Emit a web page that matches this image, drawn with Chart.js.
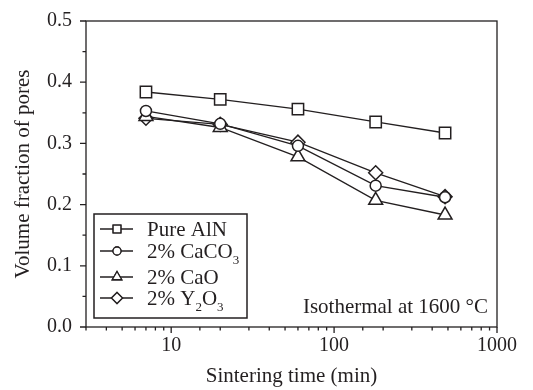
<!DOCTYPE html>
<html>
<head>
<meta charset="utf-8">
<script src="https://cdn.jsdelivr.net/npm/chart.js@4/dist/chart.umd.min.js"></script>
<style>
  html, body { margin: 0; padding: 0; background: #fff; }
  #wrap { width: 533px; height: 390px; }
</style>
</head>
<body>
<div id="wrap"><canvas id="chart"></canvas></div>
<script>
// sintering time (min) and pore fractions
const times = [7, 20, 60, 180, 480];
const pureAlN = [0.384, 0.372, 0.356, 0.335, 0.317];
const caco3 = [0.353, 0.332, 0.296, 0.231, 0.212];
const cao = [0.344, 0.326, 0.278, 0.207, 0.183];
const y2o3 = [0.341, 0.331, 0.302, 0.252, 0.213];

const seriesNames = ['Pure AlN', '2% CaCO3', '2% CaO', '2% Y2O3'];
const xTickLabels = [10, 100, 1000];
const yTickLabels = ['0.0', '0.1', '0.2', '0.3', '0.4', '0.5'];

const ink = '#231f20';
const serif = '"Liberation Serif", "DejaVu Serif", serif';

function pts(vals) {
  return times.map((t, i) => ({ x: t, y: vals[i] }));
}

function makeSet(label, vals, style, radius) {
  return {
    label: label,
    data: pts(vals),
    borderColor: ink,
    borderWidth: 1.3,
    pointStyle: style,
    pointRadius: radius,
    pointHoverRadius: radius,
    pointBackgroundColor: '#fff',
    pointBorderColor: ink,
    pointBorderWidth: 1.5,
    tension: 0,
  };
}

const datasets = [
  makeSet(seriesNames[0], pureAlN, 'rect', 8),
  makeSet(seriesNames[1], caco3, 'circle', 5.5),
  makeSet(seriesNames[2], cao, 'triangle', 8),
  makeSet(seriesNames[3], y2o3, 'rectRot', 7),
];

// text with a trailing-digit subscript, e.g. CaCO3, Y2O3
function drawChem(ctx, text, x, y, size) {
  const big = size + 'px ' + serif;
  const small = Math.round(size * 0.62) + 'px ' + serif;
  let cx = x;
  const parts = text.match(/(\d+%?|[^\d]+)/g);
  parts.forEach((p, i) => {
    const prev = i > 0 ? parts[i - 1] : ' ';
    const sub = /^\d$/.test(p) && /[A-Z]$/i.test(prev) && !/%/.test(p);
    ctx.font = sub ? small : big;
    ctx.fillText(p, cx, sub ? y + size * 0.3 : y);
    cx += ctx.measureText(p).width;
  });
}

const framePlugin = {
  id: 'frame',
  afterDraw(chart) {
    const ctx = chart.ctx;
    const { left, right, top, bottom } = chart.chartArea;
    const xs = chart.scales.x;
    const ys = chart.scales.y;
    ctx.save();
    ctx.strokeStyle = ink;
    ctx.lineWidth = 1.3;
    ctx.strokeRect(left, top, right - left, bottom - top);

    ctx.beginPath();
    xs.ticks.forEach(t => {
      const px = xs.getPixelForValue(t.value);
      const len = xTickLabels.includes(t.value) ? 6 : 3.5;
      ctx.moveTo(px, bottom);
      ctx.lineTo(px, bottom + len);
    });
    ys.ticks.forEach(t => {
      const py = ys.getPixelForValue(t.value);
      const major = Math.abs(t.value * 10 - Math.round(t.value * 10)) < 1e-6;
      const len = major ? 6 : 3.5;
      ctx.moveTo(left, py);
      ctx.lineTo(left - len, py);
    });
    ctx.stroke();

    // annotation
    ctx.fillStyle = ink;
    ctx.font = '21px ' + serif;
    ctx.textAlign = 'right';
    ctx.textBaseline = 'alphabetic';
    ctx.fillText('Isothermal at 1600 \u00B0C', right - 9, bottom - 14);

    // legend box
    const bx = left + 8, by = top + 193, bw = 153, bh = 104;
    ctx.lineWidth = 1.5;
    ctx.strokeRect(bx, by, bw, bh);
    const rows = [15, 37, 63, 84];
    datasets.forEach((ds, i) => {
      const cy = by + rows[i];
      ctx.beginPath();
      ctx.lineWidth = 1.3;
      ctx.moveTo(bx + 6, cy);
      ctx.lineTo(bx + 39, cy);
      ctx.stroke();
      const r = ds.pointStyle === 'circle' ? 4 : 5.5;
      Chart.helpers.drawPoint(ctx, {
        pointStyle: ds.pointStyle, radius: r, rotation: 0, borderWidth: 1.3
      }, bx + 23, cy);
      ctx.fillStyle = '#fff';
      ctx.fill();
      ctx.stroke();
      ctx.fillStyle = ink;
      ctx.textAlign = 'left';
      drawChem(ctx, ds.label, bx + 53, cy + 7, 21);
    });
    ctx.restore();
  }
};

new Chart(document.getElementById('chart'), {
  type: 'line',
  data: { datasets: datasets },
  options: {
    responsive: true,
    maintainAspectRatio: false,
    animation: false,
    events: [],
    layout: { padding: { top: 21, right: 36, left: 0, bottom: 0 } },
    plugins: { legend: { display: false }, tooltip: { enabled: false } },
    scales: {
      x: {
        type: 'logarithmic',
        min: 3,
        max: 1000,
        afterFit: s => { s.height = 63; s.paddingLeft = 0; s.paddingRight = 0; },
        grid: { display: false, drawTicks: false },
        border: { display: false },
        ticks: {
          autoSkip: false,
          maxRotation: 0,
          padding: 7,
          color: ink,
          font: { family: serif, size: 20 },
          callback: v => xTickLabels.includes(v) ? String(v) : '',
        },
        title: {
          display: true,
          text: 'Sintering time (min)',
          color: ink,
          font: { family: serif, size: 21 },
          padding: { top: 0, bottom: 1 },
        },
      },
      y: {
        type: 'linear',
        min: 0,
        max: 0.5,
        afterFit: s => { s.width = 86; s.paddingTop = 0; s.paddingBottom = 0; },
        grid: { display: false, drawTicks: false },
        border: { display: false },
        ticks: {
          stepSize: 0.05,
          autoSkip: false,
          padding: 14,
          color: ink,
          font: { family: serif, size: 20 },
          callback: v => {
            const k = Math.round(v * 20);
            return k % 2 === 0 ? yTickLabels[k / 2] : '';
          },
        },
        title: {
          display: true,
          text: 'Volume fraction of pores',
          color: ink,
          font: { family: serif, size: 21 },
          padding: { top: 11, bottom: 0 },
        },
      },
    },
  },
  plugins: [framePlugin],
});
</script>
</body>
</html>
